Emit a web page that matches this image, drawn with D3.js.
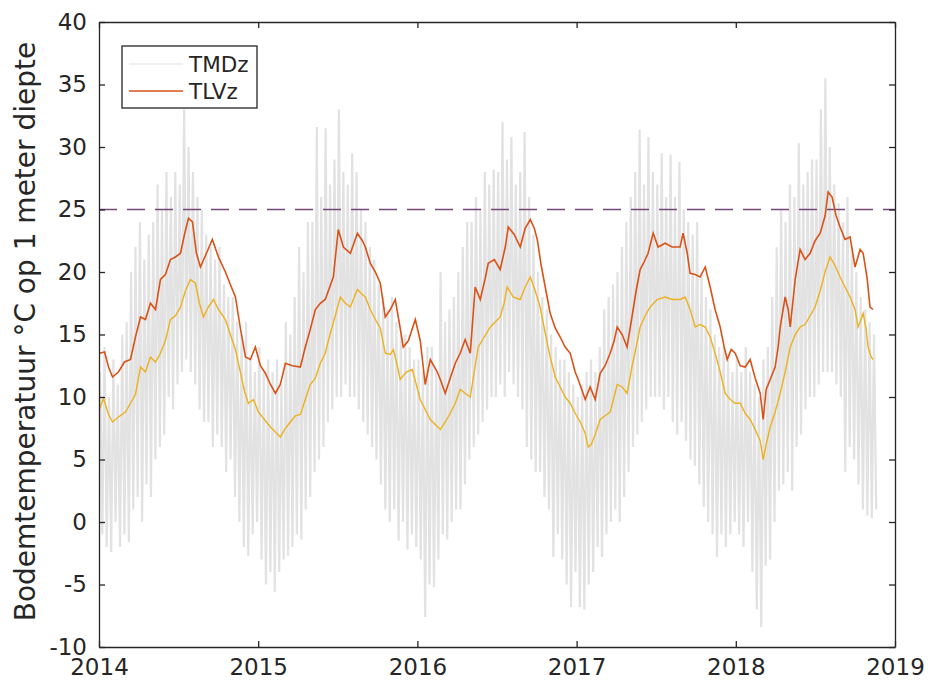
<!DOCTYPE html>
<html>
<head>
<meta charset="utf-8">
<script src="https://cdn.jsdelivr.net/npm/d3@7"></script>
<style>
  body { margin: 0; background: #fff; }
  text { font-family: "DejaVu Sans", sans-serif; fill: #262626; }
</style>
</head>
<body>
<svg id="chart" width="928" height="684"></svg>
<script>
// axis ticks
const yearTicks = [2014, 2015, 2016, 2017, 2018, 2019];
const tempTicks = [-10, -5, 0, 5, 10, 15, 20, 25, 30, 35, 40];
const drempel = 25;

// TMDz: high and low per ~10 day period (36 per year)
const tmdzYears = [2014, 2015, 2016, 2017, 2018];
const tmdzHigh = [
  [12,14,10, 13,11,15, 16,20,22, 24,21,23, 24,27,25, 28,26,28, 27,33,30, 28,26,25, 23,22,21, 22,19,18, 18,16,15, 16,13,12],
  [14,12,13, 12,13,11, 16,15,18, 22,20,24, 24,31.6,26, 31.5,27,29, 33,28,27, 29.5,28,25, 24,22,21, 19,18,17, 18,16,15, 15,14,13],
  [13,12,14, 14,12,20, 16,17,18, 20,22,24, 24,26,25, 28,27,28.2, 28,32,29, 30.8,27,28, 31.2,26,23, 20,18,17, 15,14,13, 13,12,11],
  [10,11,12, 13,12,14, 17,18,19, 20,22,24, 26,28,31.4, 27,30.8,28, 27,29.5,26, 29.4,26,28.8, 25,24,23, 24,20,18, 17,15,14, 14,13,12],
  [13,12,14, 12,11,10, 13,14,18, 22,25,24, 27,26,30.3, 27,28,29, 29,33,35.5, 30,27,25.5, 24,26,22, 20,18,17, 16,15]
];
const tmdzLow = [
  [-1,-2,-2.4, 0,-2,-1, -1.6,1,2, 0,3,2, 5,6,7, 10,9,11, 12,13,12, 11,9,8, 8,6,7, 6,4,5, 2,0,-2, -2.7,-1,0],
  [-3,-5,-4, -5.6,-4,-3, -2.7,-2,-1, -1.4,1,2, 4,5,6, 8,9,10, 10,11,10, 10,9,8, 7,6,5, 3,1,0, 1,-1.5,0, -2.2,-1,-2],
  [-3,-7.6,-5, -5.2,-3,-1, -1.4,0,1, 1,3,5, 6,7,8, 9,10,10, 11,10,12, 11,10,9, 6,5,4, 4,2,1, -2.8,-1,-3, -5,-6.8,-4],
  [-6.8,-7,-5, -4,-2,-2.8, -1,0,1, 0,2,4, 6,7,8, 9,10,10, 10,9,10, 8,7,8, 6.5,5,4.5, 3,1.2,0, -1,-2.8,-1, -2,-1,0],
  [-1,-2,0, -4,-7,-8.4, -3.5,-3,0, 2.5,3,4, 2.5,6,7, 9,10,10, 11,12,12, 12,11,10, 4,6,5, 3,1,0.5, 0.3,1]
];

// TLVz: [years since 2014, °C]
const tlvz = [
  [0.003,13.5],[0.035,13.6],[0.060,12.4],[0.085,11.6],[0.122,12.0],[0.160,12.8],[0.198,13.0],[0.229,14.8],
  [0.261,16.4],[0.292,16.2],[0.323,17.5],[0.355,17.0],[0.386,19.4],[0.417,19.8],[0.449,21.0],[0.480,21.2],
  [0.512,21.5],[0.537,23.0],[0.562,24.3],[0.587,24.0],[0.612,21.5],[0.637,20.4],[0.675,21.5],[0.712,22.6],
  [0.750,21.2],[0.794,20.0],[0.825,19.0],[0.857,18.0],[0.888,15.5],[0.920,13.2],[0.951,13.0],[0.982,14.0],
  [1.014,12.5],[1.045,11.9],[1.077,11.0],[1.108,10.3],[1.139,11.0],[1.171,12.7],[1.215,12.5],[1.265,12.4],
  [1.296,14.0],[1.327,15.4],[1.359,17.0],[1.390,17.5],[1.421,17.8],[1.472,19.6],[1.503,23.4],[1.535,22.0],
  [1.579,21.5],[1.623,23.1],[1.654,22.5],[1.673,22.0],[1.704,20.7],[1.736,20.0],[1.767,19.1],[1.798,16.4],
  [1.830,17.0],[1.861,17.8],[1.892,15.5],[1.911,14.0],[1.943,14.5],[1.987,16.2],[2.018,14.5],[2.049,11.0],
  [2.081,13.0],[2.125,12.0],[2.144,11.4],[2.175,10.3],[2.206,11.5],[2.238,12.7],[2.269,13.5],[2.300,14.6],
  [2.332,13.5],[2.363,18.8],[2.395,17.8],[2.426,19.5],[2.445,20.7],[2.483,21.0],[2.520,20.2],[2.552,22.0],
  [2.571,23.6],[2.608,23.0],[2.646,22.0],[2.677,23.5],[2.709,24.2],[2.734,23.5],[2.753,22.6],[2.778,20.5],
  [2.803,18.8],[2.834,16.7],[2.866,15.5],[2.897,14.8],[2.928,14.0],[2.960,13.5],[2.991,12.0],[3.010,11.4],
  [3.035,10.5],[3.054,9.8],[3.085,10.8],[3.117,9.8],[3.148,11.9],[3.179,12.5],[3.211,13.5],[3.236,14.5],
  [3.255,15.6],[3.286,15.0],[3.317,14.0],[3.349,16.5],[3.374,18.5],[3.399,20.2],[3.424,20.8],[3.449,21.5],
  [3.481,23.1],[3.512,22.0],[3.556,22.3],[3.600,22.0],[3.650,22.0],[3.669,23.1],[3.695,21.5],[3.713,19.9],
  [3.745,19.8],[3.776,19.6],[3.808,20.4],[3.839,18.8],[3.870,17.0],[3.902,15.6],[3.927,14.0],[3.946,13.0],
  [3.971,13.8],[3.996,13.5],[4.028,12.5],[4.059,12.4],[4.090,13.0],[4.122,11.5],[4.153,10.3],[4.172,8.2],
  [4.191,10.6],[4.216,11.4],[4.247,12.4],[4.266,14.0],[4.279,15.6],[4.310,18.0],[4.329,17.0],[4.342,15.6],
  [4.373,19.4],[4.404,21.8],[4.435,21.0],[4.467,21.5],[4.498,22.5],[4.530,23.1],[4.561,24.5],[4.580,26.4],
  [4.605,26.0],[4.630,24.5],[4.655,23.6],[4.686,22.6],[4.718,22.8],[4.749,20.4],[4.781,21.8],[4.800,21.5],
  [4.825,19.5],[4.843,17.2],[4.862,17.0]
];

// lower (yellow) curve: [years since 2014, °C]
const tlvzOnder = [
  [0.003,9.0],[0.028,9.9],[0.060,8.6],[0.085,8.0],[0.122,8.4],[0.166,8.8],[0.198,9.5],[0.229,10.2],
  [0.261,12.4],[0.292,12.0],[0.323,13.2],[0.355,12.8],[0.386,13.5],[0.417,14.5],[0.449,16.2],[0.480,16.5],
  [0.512,17.2],[0.543,18.5],[0.574,19.4],[0.606,19.1],[0.631,17.5],[0.656,16.4],[0.687,17.2],[0.719,17.8],
  [0.750,17.0],[0.794,16.2],[0.825,15.0],[0.857,13.8],[0.888,12.0],[0.913,10.5],[0.938,9.5],[0.970,9.8],
  [1.001,8.8],[1.039,8.2],[1.077,7.6],[1.108,7.2],[1.139,6.8],[1.171,7.5],[1.202,8.0],[1.233,8.5],
  [1.265,8.6],[1.296,9.8],[1.327,11.0],[1.359,11.5],[1.390,12.7],[1.421,13.5],[1.453,15.1],[1.484,16.5],
  [1.516,18.0],[1.547,17.5],[1.579,17.2],[1.610,18.2],[1.623,18.6],[1.654,18.2],[1.673,18.0],[1.704,17.0],
  [1.736,16.2],[1.767,15.5],[1.798,13.5],[1.830,13.4],[1.849,13.8],[1.874,12.5],[1.892,11.4],[1.930,12.0],
  [1.968,12.2],[1.993,11.0],[2.018,9.8],[2.049,9.0],[2.081,8.2],[2.112,7.8],[2.144,7.4],[2.175,8.0],
  [2.206,8.7],[2.238,9.5],[2.269,10.6],[2.300,10.3],[2.332,10.0],[2.357,12.0],[2.382,14.0],[2.420,14.8],
  [2.458,15.6],[2.489,16.0],[2.520,16.4],[2.545,17.5],[2.564,18.8],[2.602,18.0],[2.646,17.8],[2.677,18.8],
  [2.709,19.6],[2.740,18.5],[2.771,17.2],[2.803,15.1],[2.834,13.2],[2.866,11.6],[2.897,10.8],[2.928,10.0],
  [2.960,9.5],[2.991,8.7],[3.023,8.0],[3.054,7.1],[3.073,6.0],[3.092,6.2],[3.117,7.0],[3.148,8.2],
  [3.179,8.5],[3.211,8.8],[3.255,11.0],[3.286,10.8],[3.317,10.3],[3.349,12.5],[3.374,14.0],[3.399,15.6],
  [3.431,16.5],[3.462,17.2],[3.506,17.8],[3.556,18.0],[3.600,17.8],[3.650,17.8],[3.682,18.0],[3.713,17.0],
  [3.745,15.6],[3.776,15.8],[3.808,15.6],[3.839,14.8],[3.870,13.5],[3.902,12.0],[3.933,10.3],[3.965,9.8],
  [3.996,9.5],[4.028,9.5],[4.059,8.7],[4.090,8.2],[4.122,7.4],[4.153,6.5],[4.172,5.0],[4.191,6.2],
  [4.216,7.6],[4.247,8.8],[4.279,10.3],[4.310,12.0],[4.342,14.0],[4.373,15.0],[4.404,15.6],[4.435,15.8],
  [4.467,16.5],[4.498,17.2],[4.530,18.5],[4.561,20.0],[4.592,21.2],[4.624,20.5],[4.655,19.6],[4.686,18.8],
  [4.718,18.0],[4.749,17.0],[4.768,15.6],[4.787,16.2],[4.800,16.7],[4.818,15.5],[4.831,14.0],[4.850,13.2],
  [4.862,13.0]
];

const legendLabels = ["TMDz", "TLVz"];

const svg = d3.select("#chart");
const margin = { top: 22, right: 33, bottom: 37, left: 99 };
const width = +svg.attr("width") - margin.left - margin.right;
const height = +svg.attr("height") - margin.top - margin.bottom;
const g = svg.append("g").attr("transform", "translate(" + margin.left + "," + margin.top + ")");

const x = d3.scaleLinear().domain([2014, 2019]).range([0, width]);
const y = d3.scaleLinear().domain([-10, 40]).range([height, 0]);

// zigzag between the high and low value of every period
const tmdzPts = [];
tmdzYears.forEach((yr, k) => {
  tmdzHigh[k].forEach((h, i) => {
    tmdzPts.push([yr + (i + 0.25) / 36, h]);
    tmdzPts.push([yr + (i + 0.75) / 36, tmdzLow[k][i]]);
  });
});

const line = d3.line().x(d => x(d[0])).y(d => y(d[1]));
const lineRel = d3.line().x(d => x(2014 + d[0])).y(d => y(d[1]));

g.append("path").datum(tmdzPts)
  .attr("d", line).attr("fill", "none")
  .attr("stroke", "#e2e2e2").attr("stroke-width", 2.2)
  .attr("stroke-linejoin", "bevel");

g.append("line")
  .attr("x1", x(2014)).attr("x2", x(2019))
  .attr("y1", y(drempel)).attr("y2", y(drempel))
  .attr("stroke", "#74497a").attr("stroke-width", 1.5)
  .attr("stroke-dasharray", "18,10");

g.append("path").datum(tlvzOnder)
  .attr("d", lineRel).attr("fill", "none")
  .attr("stroke", "#EDB120").attr("stroke-width", 1.4);

g.append("path").datum(tlvz)
  .attr("d", lineRel).attr("fill", "none")
  .attr("stroke", "#D95319").attr("stroke-width", 1.6);

// axes, MATLAB style box with inward ticks
const axisStyle = sel => {
  sel.selectAll(".domain").attr("stroke", "#262626").attr("stroke-width", 1.3);
  sel.selectAll(".tick line").attr("stroke", "#262626").attr("stroke-width", 1.3);
  sel.selectAll(".tick text").style("font-size", "23px").attr("fill", "#262626");
};

g.append("g").attr("transform", "translate(0," + height + ")")
  .call(d3.axisBottom(x).tickValues(yearTicks).tickFormat(d3.format("d"))
    .tickSizeInner(-6).tickSizeOuter(0).tickPadding(12))
  .call(axisStyle);
g.append("g")
  .call(d3.axisTop(x).tickValues(yearTicks).tickFormat("")
    .tickSizeInner(-6).tickSizeOuter(0))
  .call(axisStyle);
g.append("g")
  .call(d3.axisLeft(y).tickValues(tempTicks).tickFormat(d => String(d))
    .tickSizeInner(-6).tickSizeOuter(0).tickPadding(12))
  .call(axisStyle);
g.append("g").attr("transform", "translate(" + width + ",0)")
  .call(d3.axisRight(y).tickValues(tempTicks).tickFormat("")
    .tickSizeInner(-6).tickSizeOuter(0))
  .call(axisStyle);

svg.selectAll(".domain").attr("fill", "none");

svg.append("text")
  .attr("transform", "translate(35," + (margin.top + height / 2 - 3) + ") rotate(-90)")
  .attr("text-anchor", "middle")
  .style("font-size", "28px")
  .text("Bodemtemperatuur °C op 1 meter diepte");

// legend
const legend = svg.append("g").attr("transform", "translate(122,46)");
legend.append("rect")
  .attr("width", 135).attr("height", 62)
  .attr("fill", "#fff").attr("stroke", "#262626").attr("stroke-width", 1.3);
const legendColors = ["#e2e2e2", "#D95319"];
legendLabels.forEach((lab, i) => {
  const yy = 18 + i * 27;
  legend.append("line")
    .attr("x1", 7).attr("x2", 61).attr("y1", yy).attr("y2", yy)
    .attr("stroke", legendColors[i]).attr("stroke-width", i ? 1.6 : 1.1);
  legend.append("text")
    .attr("x", 67).attr("y", yy).attr("dy", "0.36em")
    .style("font-size", "21.5px")
    .text(lab);
});
</script>
</body>
</html>
